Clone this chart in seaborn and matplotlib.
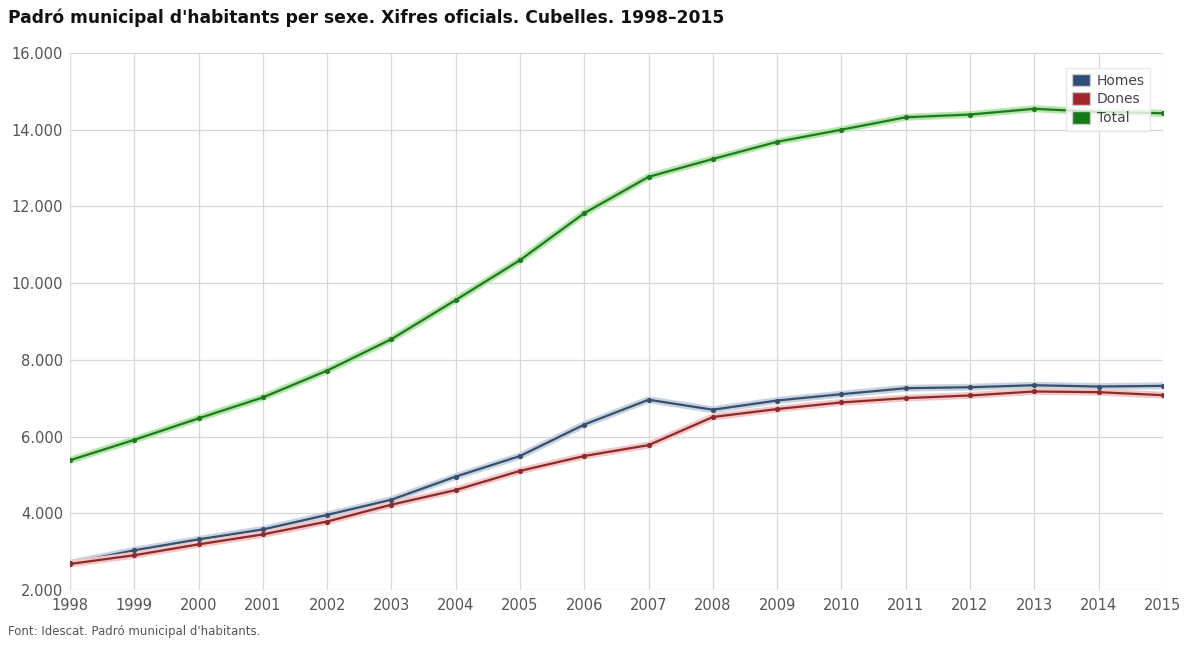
import pandas as pd
import matplotlib.pyplot as plt
import matplotlib.patheffects as pe
from matplotlib.patches import Patch
from matplotlib.ticker import FuncFormatter
import seaborn as sns

# Dades (llegides del gràfic)
anys = list(range(1998, 2016))
homes = [2700, 3035, 3320, 3578, 3958, 4354, 4957, 5493, 6313, 6960,
         6700, 6940, 7105, 7260, 7286, 7338, 7304, 7322]
dones = [2680, 2906, 3190, 3449, 3785, 4225, 4605, 5105, 5493, 5777,
         6510, 6717, 6890, 7002, 7071, 7175, 7157, 7079]
total = [5382, 5915, 6475, 7020, 7720, 8540, 9560, 10600, 11824, 12771,
         13237, 13684, 14000, 14324, 14395, 14545, 14461, 14429]

series = ['Homes', 'Dones', 'Total']
colors = {'Homes': '#34506e', 'Dones': '#8e2a2a', 'Total': '#1f7a1f'}
halos = {'Homes': '#c9d3df', 'Dones': '#f0c8c8', 'Total': '#b3e6aa'}
legend_colors = {'Homes': '#2e4d7b', 'Dones': '#a3262a', 'Total': '#137b13'}

df = pd.DataFrame({'any': anys, 'Homes': homes, 'Dones': dones, 'Total': total})
long_df = df.melt(id_vars='any', var_name='serie', value_name='habitants')

sns.set_style('white')
plt.rcParams['font.family'] = ['DejaVu Sans']

fig = plt.figure(figsize=(11.97, 6.46), dpi=100)
ax = fig.add_axes([0.0585, 0.0867, 0.913, 0.8313])

for s in series:
    sub = long_df[long_df['serie'] == s]
    sns.lineplot(data=sub, x='any', y='habitants', ax=ax, color=colors[s],
                 linewidth=1.6, legend=False,
                 path_effects=[pe.Stroke(linewidth=5, foreground=halos[s]), pe.Normal()])
    sns.scatterplot(data=sub, x='any', y='habitants', ax=ax, color=colors[s],
                    s=14, linewidth=0, legend=False, zorder=3)

ax.set_xlim(1998, 2015)
ax.set_ylim(2000, 16000)
ax.set_xticks(anys)
ax.set_yticks(range(2000, 16001, 2000))
ax.yaxis.set_major_formatter(FuncFormatter(lambda v, p: f'{int(v):,}'.replace(',', '.')))
ax.grid(True, color='#d8d8d8', linewidth=0.9)
for sp in ax.spines.values():
    sp.set_visible(False)
ax.tick_params(axis='both', length=0, labelsize=10.5, labelcolor='#555555')
ax.tick_params(axis='x', pad=6)
ax.tick_params(axis='y', pad=5)
ax.set_xlabel('')
ax.set_ylabel('')

handles = [Patch(facecolor=legend_colors[s], edgecolor='#cccccc', label=s) for s in series]
leg = ax.legend(handles=handles, loc='upper right', bbox_to_anchor=(0.995, 0.985),
                frameon=True, fontsize=10, handlelength=1.3, handleheight=1.0,
                handletextpad=0.5, labelspacing=0.35, borderpad=0.4, fancybox=False)
leg.get_frame().set_edgecolor('#e4e4e4')
for t in leg.get_texts():
    t.set_color('#444444')

fig.text(0.007, 0.972, "Padró municipal d'habitants per sexe. Xifres oficials. Cubelles. 1998–2015",
         fontsize=12.3, fontweight='bold', color='#111111', va='center', ha='left')
fig.text(0.007, 0.022, "Font: Idescat. Padró municipal d'habitants.",
         fontsize=8.5, color='#555555', va='center', ha='left')

fig.savefig('out.png', dpi=100)
